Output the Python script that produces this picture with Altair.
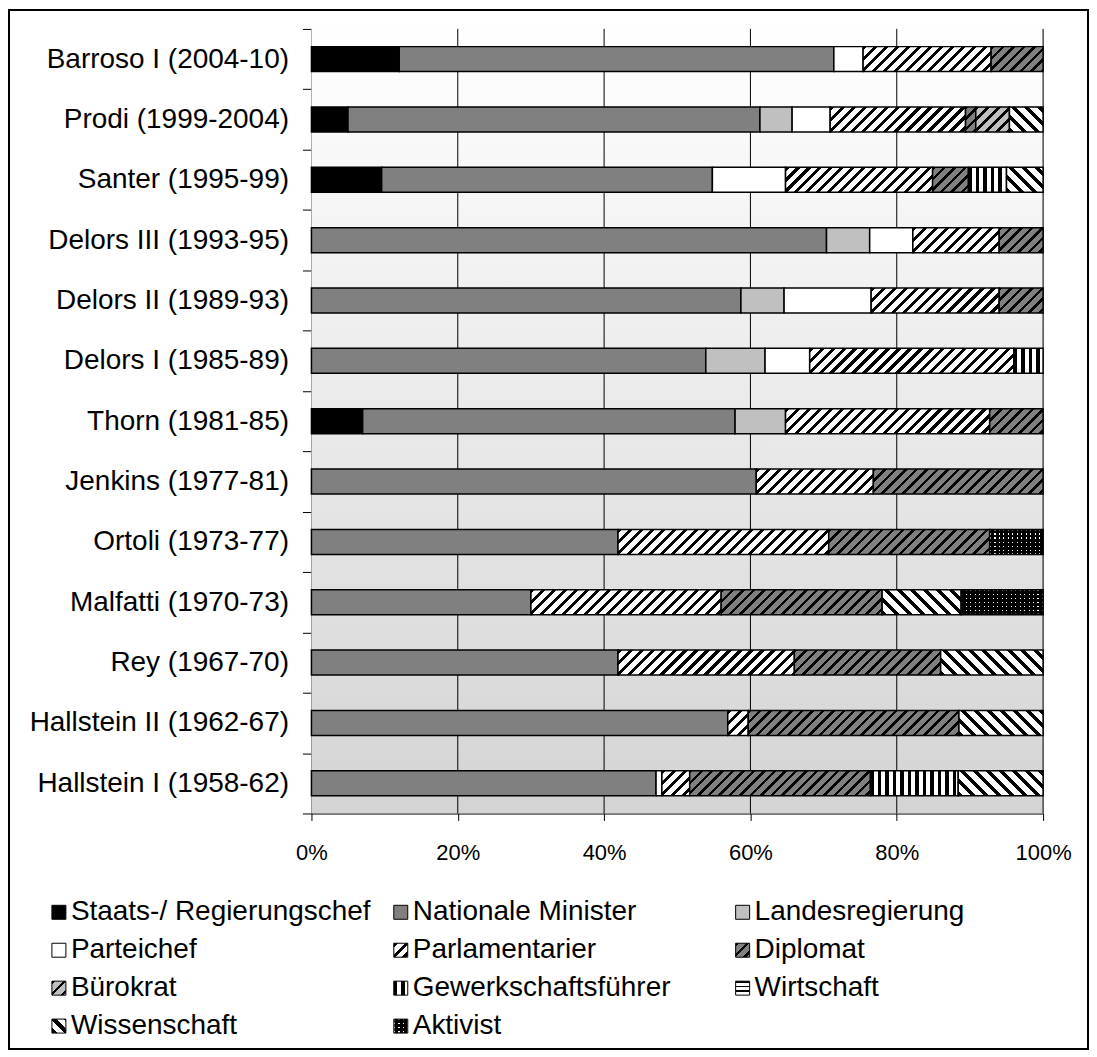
import altair as alt

# ---------------- data ----------------
commissions = [
    "Barroso I (2004-10)", "Prodi (1999-2004)", "Santer (1995-99)",
    "Delors III (1993-95)", "Delors II (1989-93)", "Delors I (1985-89)",
    "Thorn (1981-85)", "Jenkins (1977-81)", "Ortoli (1973-77)",
    "Malfatti (1970-73)", "Rey (1967-70)", "Hallstein II (1962-67)",
    "Hallstein I (1958-62)",
]

roles = [
    "Staats-/ Regierungschef", "Nationale Minister", "Landesregierung",
    "Parteichef", "Parlamentarier", "Diplomat",
    "Bürokrat", "Gewerkschaftsführer", "Wirtschaft",
    "Wissenschaft", "Aktivist",
]

# percentages per commission (same order as `commissions`)
staats        = [12.0, 5.0, 9.6, 0, 0, 0, 7.0, 0, 0, 0, 0, 0, 0]
minister      = [59.4, 56.3, 45.2, 70.4, 58.7, 53.9, 50.9, 60.8, 41.9, 30.0, 41.9, 56.9, 47.1]
landesreg     = [0, 4.4, 0, 5.9, 5.9, 8.1, 6.9, 0, 0, 0, 0, 0, 0]
parteichef    = [4.0, 5.2, 10.0, 5.9, 11.9, 6.1, 0, 0, 0, 0, 0, 0, 0.8]
parlamentar   = [17.5, 18.5, 20.1, 11.8, 17.5, 27.9, 27.9, 16.0, 28.8, 26.0, 24.1, 2.8, 3.8]
diplomat      = [7.1, 1.4, 4.9, 6.0, 6.0, 0, 7.3, 23.2, 22.0, 22.0, 20.0, 28.8, 24.7]
buerokrat     = [0, 4.6, 0, 0, 0, 0, 0, 0, 0, 0, 0, 0, 0]
gewerkschaft  = [0, 0, 5.2, 0, 0, 4.0, 0, 0, 0, 0, 0, 0, 12.0]
wirtschaft    = [0, 0, 0, 0, 0, 0, 0, 0, 0, 0, 0, 0, 0]
wissenschaft  = [0, 4.6, 5.0, 0, 0, 0, 0, 0, 0, 10.8, 14.0, 11.5, 11.6]
aktivist      = [0, 0, 0, 0, 0, 0, 0, 0, 7.3, 11.2, 0, 0, 0]

series = [staats, minister, landesreg, parteichef, parlamentar, diplomat,
          buerokrat, gewerkschaft, wirtschaft, wissenschaft, aktivist]

tick_values = [0, 20, 40, 60, 80, 100]

# ---------------- styling ----------------
PLOT_W, PLOT_H = 733, 786
BAR_H = 25
SYM = 14
FONT = "Liberation Sans"

# kind, background, foreground, period(px), foreground fraction
styles = {
    "Staats-/ Regierungschef": ("solid", "#000000", None, 0, 0),
    "Nationale Minister":      ("solid", "#808080", None, 0, 0),
    "Landesregierung":         ("solid", "#c0c0c0", None, 0, 0),
    "Parteichef":              ("solid", "#ffffff", None, 0, 0),
    "Parlamentarier":          ("up", "#ffffff", "#000000", 11, 0.38),
    "Diplomat":                ("up", "#808080", "#000000", 10.5, 0.33),
    "Bürokrat":                ("up", "#c0c0c0", "#000000", 11, 0.33),
    "Gewerkschaftsführer":     ("vert", "#ffffff", "#000000", 7.5, 0.45),
    "Wirtschaft":              ("horiz", "#ffffff", "#000000", 4.5, 0.4),
    "Wissenschaft":            ("down", "#ffffff", "#000000", 13, 0.4),
    "Aktivist":                ("vert", "#000000", "#ffffff", 4.5, 0.3),
}
overlay_styles = {
    "Aktivist": ("horiz", "rgba(0,0,0,0)", "#000000", 4.5, 0.7),
}


def pattern(style, w, h):
    kind, bg, fg, period, frac = style
    if kind == "solid":
        return bg
    if kind == "up":
        k = (w + h) / (w * w + h * h)
        coords = dict(x1=0, y1=0, x2=k * w, y2=k * h)
        L = w + h
    elif kind == "down":
        k = (w + h) / (w * w + h * h)
        coords = dict(x1=0, y1=1, x2=k * w, y2=1 - k * h)
        L = w + h
    elif kind == "vert":
        coords = dict(x1=0, y1=0, x2=1, y2=0)
        L = w
    else:
        coords = dict(x1=0, y1=0, x2=0, y2=1)
        L = h
    stops = []
    i = 0
    while i * period < L:
        a = round(i * period / L, 5)
        b = round(min((i + frac) * period / L, 1), 5)
        c = round(min((i + 1) * period / L, 1), 5)
        stops += [{"offset": a, "color": fg}, {"offset": b, "color": fg},
                  {"offset": b, "color": bg}, {"offset": c, "color": bg}]
        i += 1
    return {"gradient": "linear", **{k2: round(v, 5) for k2, v in coords.items()},
            "stops": stops}


# bar segments (stacked cumulatively)
bar_rows, overlay_rows = [], []
for ci, com in enumerate(commissions):
    start = 0.0
    for role, vals in zip(roles, series):
        v = vals[ci]
        if v <= 0:
            continue
        w = v / 100 * PLOT_W
        bar_rows.append({"commission": com, "role": role, "x0": start,
                         "x1": start + v, "g": pattern(styles[role], w, BAR_H)})
        if role in overlay_styles:
            overlay_rows.append({"commission": com, "role": role, "x0": start,
                                 "x1": start + v,
                                 "g": pattern(overlay_styles[role], w, BAR_H)})
        start += v

# legend entries (3 columns, row-major)
leg_rows, leg_overlay = [], []
for i, role in enumerate(roles):
    leg_rows.append({"role": role, "col": i % 3, "row": i // 3,
                     "g": pattern(styles[role], SYM, SYM)})
    if role in overlay_styles:
        leg_overlay.append({"role": role, "col": i % 3, "row": i // 3,
                            "g": pattern(overlay_styles[role], SYM, SYM)})

# ---------------- chart ----------------
ysort = commissions
xscale = alt.Scale(domain=[0, 100], nice=False)

bars = alt.Chart(alt.Data(values=bar_rows)).mark_bar(
    size=BAR_H, stroke="#000000", strokeWidth=1.5
).encode(
    y=alt.Y("commission:N", sort=ysort,
            scale=alt.Scale(paddingInner=0, paddingOuter=0),
            axis=alt.Axis(title=None, tickBand="extent", tickSize=9,
                          tickColor="#000000", domainColor="#000000",
                          domainWidth=1.2, labelFontSize=28, labelFont=FONT,
                          labelColor="#000000", labelPadding=14, grid=False,
                          labelLimit=400)),
    x=alt.X("x0:Q", scale=xscale,
            axis=alt.Axis(title=None, values=tick_values,
                          labelExpr="datum.value + '%'", grid=False,
                          labelFlush=False,
                          tickColor="#000000", tickSize=7,
                          domainColor="#000000", domainWidth=1.2,
                          labelFontSize=22, labelFont=FONT,
                          labelColor="#000000", labelPadding=22)),
    x2="x1:Q",
    fill=alt.Fill("g:N", scale=None),
)

background = alt.Chart(alt.Data(values=[{"a": 0, "b": 100}])).mark_rect(
    fill={"gradient": "linear", "x1": 0, "y1": 0, "x2": 0, "y2": 1,
          "stops": [{"offset": 0, "color": "#ffffff"},
                    {"offset": 1, "color": "#d4d4d4"}]}
).encode(
    x=alt.X("a:Q", scale=xscale),
    x2="b:Q",
)

grid = alt.Chart(alt.Data(values=[{"t": t} for t in tick_values[1:]])).mark_rule(
    color="#000000", strokeWidth=1
).encode(x=alt.X("t:Q", scale=xscale))

overlay = alt.Chart(alt.Data(values=overlay_rows)).mark_bar(
    size=BAR_H - 2, strokeWidth=0
).encode(
    y=alt.Y("commission:N", sort=ysort),
    x=alt.X("x0:Q", scale=xscale),
    x2="x1:Q",
    fill=alt.Fill("g:N", scale=None),
)

main = alt.layer(background, grid, bars, overlay)

leg_x = alt.X("col:Q", scale=alt.Scale(domain=[0, 2], range=[-253, 432]), axis=None)
leg_y = alt.Y("row:Q", scale=alt.Scale(domain=[0, 3], range=[885, 999]), axis=None)

leg_sym = alt.Chart(alt.Data(values=leg_rows)).mark_point(
    shape="square", size=SYM * SYM, filled=True, opacity=1,
    stroke="#000000", strokeWidth=1
).encode(x=leg_x, y=leg_y, fill=alt.Fill("g:N", scale=None))

leg_sym2 = alt.Chart(alt.Data(values=leg_overlay)).mark_point(
    shape="square", size=(SYM - 1) * (SYM - 1), filled=True, opacity=1,
    strokeWidth=0
).encode(x=leg_x, y=leg_y, fill=alt.Fill("g:N", scale=None))

leg_txt = alt.Chart(alt.Data(values=leg_rows)).mark_text(
    align="left", baseline="middle", dx=12, fontSize=28, font=FONT,
    color="#000000"
).encode(x=leg_x, y=leg_y, text="role:N")

legend = alt.layer(leg_sym, leg_sym2, leg_txt)

frame = alt.Chart(alt.Data(values=[{"k": 1}])).mark_rect(
    fillOpacity=0, stroke="#000000", strokeWidth=2
).encode(
    x=alt.value(-303), x2=alt.value(778),
    y=alt.value(-19), y2=alt.value(1022),
)

chart = alt.layer(main, legend, frame).resolve_scale(
    x="independent", y="independent"
).properties(
    width=PLOT_W, height=PLOT_H,
    padding={"left": 0, "top": 0, "right": 0, "bottom": 0},
).configure_view(strokeWidth=0).configure(background="#ffffff")

chart.save("out.html", embed_options={"renderer": "svg", "actions": False})
